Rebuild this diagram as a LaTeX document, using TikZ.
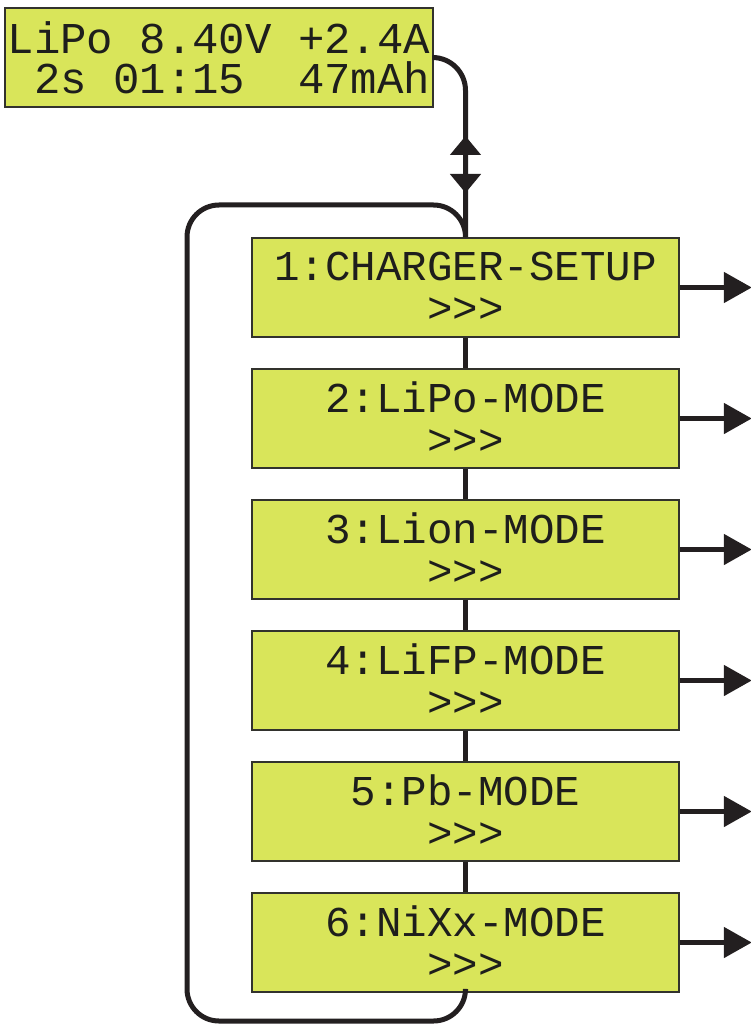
\documentclass[tikz,border=0pt]{standalone}
\usepackage{fontspec}
\usetikzlibrary{arrows.meta}
\newfontfamily\lcdfont{Liberation Mono}[WordSpace={1,0,0}]
\definecolor{lcdgreen}{RGB}{217,229,90}
\definecolor{lcdborder}{RGB}{50,50,45}
\definecolor{connblack}{RGB}{35,31,32}
\definecolor{lcdtext}{RGB}{30,30,28}
\tikzset{
  lcdbox/.style={draw=lcdborder, line width=1.6pt, fill=lcdgreen, text=lcdtext, inner sep=0pt},
  topbox/.style={lcdbox, minimum width=428pt, minimum height=99pt, align=left,
    font=\lcdfont\fontsize{44}{40}\selectfont},
  modebox/.style={lcdbox, minimum width=427pt, minimum height=99pt, align=center,
    font=\lcdfont\fontsize{42.5}{42}\selectfont},
  conn/.style={draw=connblack, line width=5pt},
  outarrow/.style={conn, -{Triangle[length=28pt,width=30pt]}},
  vhead/.style={conn, -{Triangle[length=19pt,width=30pt]}},
}
\begin{document}
\begin{tikzpicture}[x=1pt,y=-1pt]
\useasboundingbox (0,0) rectangle (751,1024);
\coordinate (lt) at (187,205);
\coordinate (lb) at (187,1021);
\node[modebox] (b1) at (465.5,287.5) {1:CHARGER-SETUP\\>>>};
\node[modebox] (b2) at (465.5,418.5) {2:LiPo-MODE\\>>>};
\node[modebox] (b3) at (465.5,549.5) {3:Lion-MODE\\>>>};
\node[modebox] (b4) at (465.5,680.5) {4:LiFP-MODE\\>>>};
\node[modebox] (b5) at (465.5,811.5) {5:Pb-MODE\\>>>};
\node[modebox] (b6) at (465.5,942.5) {6:NiXx-MODE\\>>>};
\node[topbox] (top) at (219,57.5) {LiPo 8.40V +2.4A\\\ 2s 01:15\ \ 47mAh};
% loop
\draw[conn, rounded corners=32pt] (b1.north) |- (lt) -- (lb) -| (b6.south);
% link from status display
\draw[conn, rounded corners=33pt] (top.east) -| (b1.north);
% chain between menu items
\draw[conn] (b1.south) -- (b2.north);
\draw[conn] (b2.south) -- (b3.north);
\draw[conn] (b3.south) -- (b4.north);
\draw[conn] (b4.south) -- (b5.north);
\draw[conn] (b5.south) -- (b6.north);
% double arrow on the link
\coordinate (mid) at (465.5,164);
\coordinate (upt) at (465.5,136);
\coordinate (dnt) at (465.5,193);
\draw[vhead] (mid) -- (upt);
\draw[vhead] (mid) -- (dnt);
% outgoing arrows
\foreach \i in {1,...,6}{
  \coordinate (e\i) at ([xshift=72pt]b\i.east);
  \draw[outarrow] (b\i.east) -- (e\i);
}
\end{tikzpicture}
\end{document}
